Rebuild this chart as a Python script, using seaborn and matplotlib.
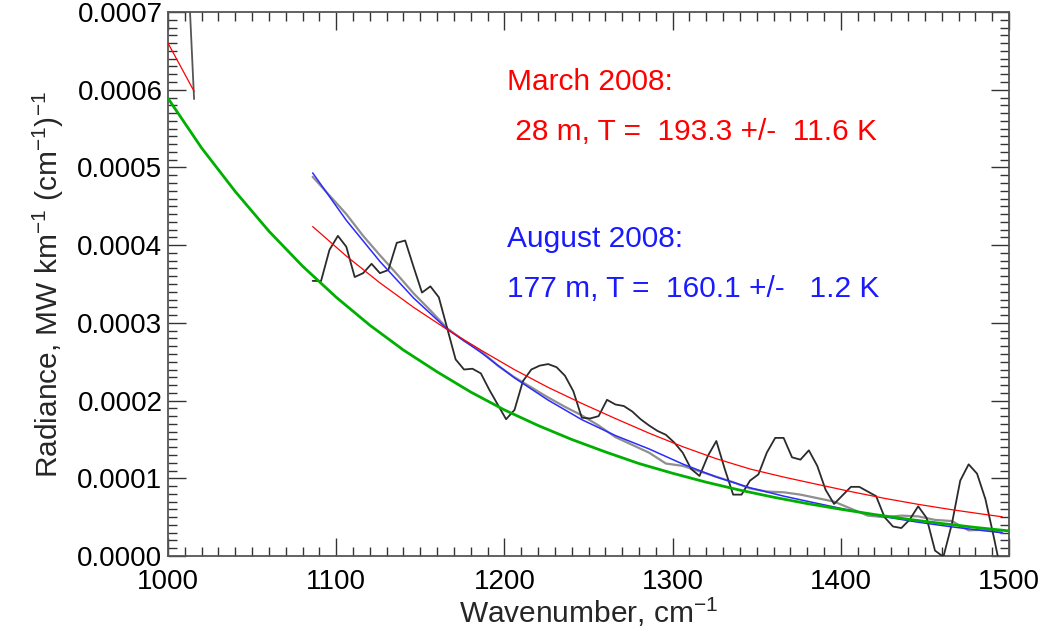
import numpy as np
import matplotlib
matplotlib.use("Agg")
import matplotlib.pyplot as plt
import seaborn as sns
from matplotlib.ticker import MultipleLocator, FormatStrFormatter

# ---- spectral window 1 (short segment near 1000 cm-1) ----
wn_w1 = [995.5, 1000.5, 1005.5, 1010.5, 1015.5]
obs_w1 = [12.0e-4, 11.0e-4, 9.8e-4, 8.2e-4, 5.88e-4]
march_w1 = [6.78e-4, 6.58e-4, 6.38e-4, 6.18e-4, 5.98e-4]

# ---- spectral window 2: observed spectrum (5 cm-1 sampling) ----
wn_obs = [1086, 1091, 1096, 1101, 1106, 1111, 1116, 1121, 1126, 1131,
          1136, 1141, 1146, 1151, 1156, 1161, 1166, 1171, 1176, 1181,
          1186, 1191, 1196, 1201, 1206, 1211, 1216, 1221, 1226, 1231,
          1236, 1241, 1246, 1251, 1256, 1261, 1266, 1271, 1276, 1281,
          1286, 1291, 1296, 1301, 1306, 1311, 1316, 1321, 1326, 1331,
          1336, 1341, 1346, 1351, 1356, 1361, 1366, 1371, 1376, 1381,
          1386, 1391, 1396, 1401, 1406, 1411, 1416, 1421, 1426, 1431,
          1436, 1441, 1446, 1451, 1456, 1461, 1466, 1471, 1476, 1481,
          1486, 1491, 1496]
obs_rad = [3.54, 3.54, 3.94, 4.12, 3.98, 3.59, 3.64, 3.76, 3.64, 3.68,
           4.03, 4.06, 3.72, 3.39, 3.47, 3.33, 2.93, 2.53, 2.40, 2.41,
           2.35, 2.14, 1.95, 1.76, 1.88, 2.25, 2.40, 2.45, 2.47, 2.43,
           2.32, 2.12, 1.78, 1.77, 1.80, 2.01, 1.95, 1.93, 1.86, 1.76,
           1.68, 1.61, 1.56, 1.46, 1.33, 1.12, 1.03, 1.29, 1.48, 1.12,
           0.79, 0.79, 0.97, 1.05, 1.33, 1.52, 1.52, 1.27, 1.24, 1.36,
           1.16, 0.85, 0.67, 0.78, 0.89, 0.89, 0.83, 0.77, 0.50, 0.38,
           0.36, 0.47, 0.64, 0.49, 0.07, -0.01, 0.41, 0.97, 1.18, 1.06,
           0.73, 0.24, -0.28]

# ---- model spectrum (10 cm-1 sampling) ----
wn_model = [1086, 1096, 1106, 1116, 1126, 1136, 1146, 1156, 1166, 1176,
            1186, 1196, 1206, 1216, 1226, 1236, 1246, 1256, 1266, 1276,
            1286, 1296, 1306, 1316, 1326, 1336, 1346, 1356, 1366, 1376,
            1386, 1396, 1406, 1416, 1426, 1436, 1446, 1456, 1466, 1476,
            1486, 1496]
model_rad = [4.88, 4.64, 4.40, 4.12, 3.87, 3.63, 3.38, 3.16, 2.93, 2.77,
             2.64, 2.45, 2.30, 2.17, 2.04, 1.92, 1.81, 1.68, 1.53, 1.43,
             1.33, 1.19, 1.16, 1.09, 1.02, 0.95, 0.87, 0.83, 0.82, 0.79,
             0.745, 0.70, 0.61, 0.52, 0.50, 0.52, 0.51, 0.465, 0.45, 0.33,
             0.34, 0.30]

# ---- blackbody fits (20 cm-1 sampling) ----
wn_fit = [1086, 1106, 1126, 1146, 1166, 1186, 1206, 1226, 1246, 1266,
          1286, 1306, 1326, 1346, 1366, 1386, 1406, 1426, 1446, 1466,
          1486, 1496]
march_fit = [4.24, 3.86, 3.515, 3.20, 2.914, 2.65, 2.398, 2.170, 1.964, 1.769,
             1.581, 1.407, 1.252, 1.120, 1.016, 0.922, 0.829, 0.742, 0.665, 0.596,
             0.534, 0.505]
august_fit = [4.93, 4.32, 3.79, 3.32, 2.92, 2.62, 2.292, 2.006, 1.755, 1.55,
              1.378, 1.184, 1.0165, 0.878, 0.771, 0.677, 0.586, 0.505, 0.435, 0.375,
              0.323, 0.30]

# ---- reference blackbody across the full range ----
wn_ref = [1000, 1020, 1040, 1060, 1080, 1100, 1120, 1140, 1160, 1180,
          1200, 1220, 1240, 1260, 1280, 1300, 1320, 1340, 1360, 1380,
          1400, 1420, 1440, 1460, 1480, 1500]
ref_rad = [5.89, 5.25, 4.69, 4.18, 3.73, 3.33, 2.97, 2.65, 2.37, 2.11,
           1.88, 1.68, 1.50, 1.34, 1.19, 1.065, 0.95, 0.848, 0.757, 0.675,
           0.602, 0.534, 0.473, 0.418, 0.368, 0.323]

ann_march = ["March 2008:", " 28 m, T =  193.3 +/-  11.6 K"]
ann_august = ["August 2008:", "177 m, T =  160.1 +/-   1.2 K"]

scale = 1e-4
obs_rad = [v * scale for v in obs_rad]
model_rad = [v * scale for v in model_rad]
march_fit = [v * scale for v in march_fit]
august_fit = [v * scale for v in august_fit]
ref_rad = [v * scale for v in ref_rad]

sns.set_theme(style="ticks")
plt.rcParams["font.family"] = ["Liberation Sans", "DejaVu Sans"]
plt.rcParams["mathtext.fontset"] = "custom"
plt.rcParams["mathtext.rm"] = "Liberation Sans"
plt.rcParams["mathtext.it"] = "Liberation Sans"
plt.rcParams["axes.unicode_minus"] = False

fig = plt.figure(figsize=(10.56, 6.34), dpi=100)
ax = fig.add_axes([0.1591, 0.1230, 0.7964, 0.8580])

def draw(x, y, color, lw, z):
    sns.lineplot(x=x, y=y, ax=ax, color=color, linewidth=lw, sort=False,
                 estimator=None, zorder=z, legend=False)

draw(wn_w1, obs_w1, "#555555", 1.3, 3)
draw(wn_w1, march_w1, "#ff0000", 0.9, 4)
draw(wn_obs, obs_rad, "#2b2b2b", 1.3, 3)
draw(wn_model, model_rad, "#8f8f8f", 1.6, 2)
draw(wn_fit, august_fit, "#2a2aff", 1.1, 4)
draw(wn_fit, march_fit, "#ff0000", 0.9, 5)
draw(wn_ref, ref_rad, "#00b000", 2.0, 6)

ax.set_xlim(1000, 1500)
ax.set_ylim(0, 0.0007)
ax.xaxis.set_major_locator(MultipleLocator(100))
ax.xaxis.set_minor_locator(MultipleLocator(10))
ax.yaxis.set_major_locator(MultipleLocator(0.0001))
ax.yaxis.set_minor_locator(MultipleLocator(0.00001))
ax.yaxis.set_major_formatter(FormatStrFormatter("%.4f"))

ax.tick_params(which="both", direction="in", top=True, right=True,
               color="#333333", width=1.0, labelsize=20, labelcolor="black")
ax.tick_params(which="major", length=13)
ax.tick_params(which="minor", length=6.5)
ax.tick_params(axis="y", which="major", pad=4)
ax.tick_params(axis="x", which="major", pad=9)
for s in ax.spines.values():
    s.set_color("#555555")
    s.set_linewidth(1.3)

ax.set_xlabel("Wavenumber, cm$^{-1}$", fontsize=21.5, labelpad=1)
ax.set_ylabel("Radiance, MW km$^{-1}$ (cm$^{-1}$)$^{-1}$", fontsize=21.5, labelpad=8)

ax.text(1201.5, 6.0e-4, ann_march[0], color="#ff0000", fontsize=21.5, va="baseline", ha="left")
ax.text(1201.5, 5.354e-4, ann_march[1], color="#ff0000", fontsize=21.5, va="baseline", ha="left")
ax.text(1201.5, 3.98e-4, ann_august[0], color="#1a1aff", fontsize=21.5, va="baseline", ha="left")
ax.text(1201.5, 3.337e-4, ann_august[1], color="#1a1aff", fontsize=21.5, va="baseline", ha="left")

fig.savefig("out.png", dpi=100, facecolor="white")
